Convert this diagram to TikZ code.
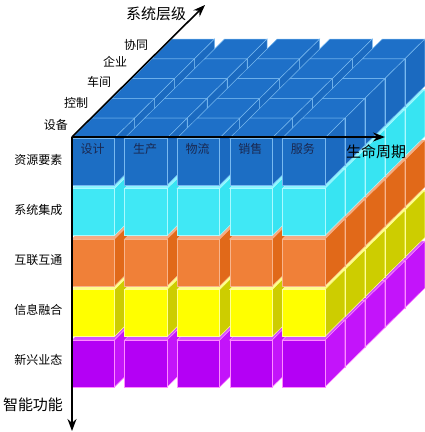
\documentclass[tikz,border=0pt]{standalone}
\usepackage{fontspec}
\newfontfamily\cjk{Noto Sans CJK SC}
\usetikzlibrary{arrows.meta}
\usepackage{xcolor}

\definecolor{blueF}{RGB}{28,110,196}
\definecolor{blueT}{RGB}{30,112,200}
\definecolor{blueS}{RGB}{27,106,192}
\definecolor{blueE}{RGB}{120,185,240}
\definecolor{cyanF}{RGB}{64,232,245}
\definecolor{cyanT}{RGB}{140,245,255}
\definecolor{cyanS}{RGB}{55,228,242}
\definecolor{cyanE}{RGB}{170,250,255}
\definecolor{orangeF}{RGB}{240,128,56}
\definecolor{orangeT}{RGB}{245,170,130}
\definecolor{orangeS}{RGB}{225,105,25}
\definecolor{orangeE}{RGB}{248,180,140}
\definecolor{yellowF}{RGB}{255,255,0}
\definecolor{yellowT}{RGB}{255,255,140}
\definecolor{yellowS}{RGB}{205,205,0}
\definecolor{yellowE}{RGB}{255,255,150}
\definecolor{purpleF}{RGB}{180,0,245}
\definecolor{purpleT}{RGB}{210,80,255}
\definecolor{purpleS}{RGB}{195,20,250}
\definecolor{purpleE}{RGB}{255,140,255}
\definecolor{navy}{RGB}{26,40,80}

% one block: column, row, depth, front, top, side, edge
\newcommand{\drawblock}[7]{%
  \pgfmathsetmacro{\bx}{72+52.6*#1+20*#3}
  \pgfmathsetmacro{\by}{138+50.5*#2-19.8*#3}
  \filldraw[fill=#5,draw=#7,line width=0.5pt] (\bx,\by) -- ++(42.5,0) -- ++(20,-19.8) -- ++(-42.5,0) -- cycle;
  \filldraw[fill=#6,draw=#7,line width=0.5pt] (\bx+42.5,\by) -- ++(0,47) -- ++(20,-19.8) -- ++(0,-47) -- cycle;
  \filldraw[fill=#4,draw=#7,line width=0.5pt] (\bx,\by) rectangle ++(42.5,47);
}

\begin{document}
\begin{tikzpicture}[x=1pt,y=-1pt,
	main axis/.style={line width=1.6pt,-{Stealth[length=12pt,width=9pt]}},
	big label/.style={font=\cjk\fontsize{15}{15}\selectfont},
	small label/.style={font=\cjk\fontsize{12}{12}\selectfont}]
	\useasboundingbox (0,0) rectangle (425,432);

	% blocks: back to front, bottom to top, left to right
	\foreach \d in {4,...,0}
	  \foreach \r/\cf/\ct/\cs/\ce in {4/purpleF/purpleT/purpleS/purpleE,
	      3/yellowF/yellowT/yellowS/yellowE,
	      2/orangeF/orangeT/orangeS/orangeE,
	      1/cyanF/cyanT/cyanS/cyanE,
	      0/blueF/blueT/blueS/blueE}
	    \foreach \c in {0,...,4}
	      {\drawblock{\c}{\r}{\d}{\cf}{\ct}{\cs}{\ce}}

	% axes
	\coordinate (o) at (72,137);
	\coordinate (level) at (205,5);
	\coordinate (life) at (385,137);
	\coordinate (func) at (72,431);
	\draw[main axis] (o) -- (level);
	\draw[main axis] (o) -- (life);
	\draw[main axis] (o) -- (func);

	\node[big label] (levelname) at (156,14) {系统层级};
	\node[big label] (lifename) at (376,152) {生命周期};
	\node[big label] (funcname) at (33,405) {智能功能};

	% labels along the axes
	\foreach \t/\x/\y [count=\i] in {设备/56/125,控制/76/103,车间/99/82,企业/115/62,协同/136/45}
	  \node[small label] (d\i) at (\x,\y) {\t};
	\foreach \t [count=\i from 0] in {资源要素,系统集成,互联互通,信息融合,新兴业态}
	  \node[small label,anchor=east] (r\i) at (66,160+50*\i) {\t};
	\foreach \t [count=\i from 0] in {设计,生产,物流,销售,服务}
	  \node[small label,anchor=west,text=navy] (c\i) at (77+52.6*\i,149) {\t};
\end{tikzpicture}
\end{document}
